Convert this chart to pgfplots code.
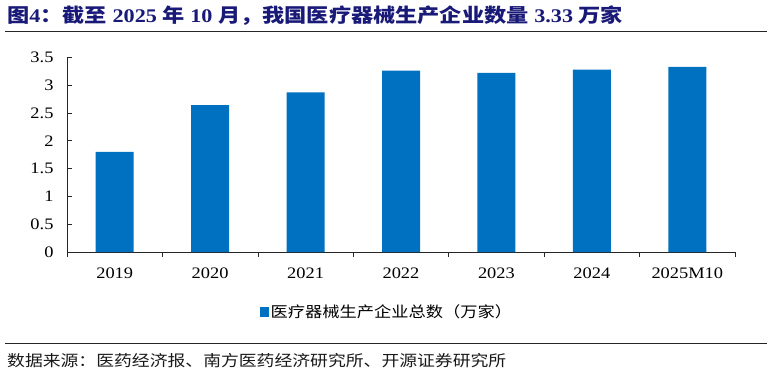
\documentclass[border=0pt]{standalone}
\usepackage{pgfplots}
\pgfplotsset{compat=1.18}
\usepackage{fontspec}
\setmainfont{Liberation Serif}[FakeStretch=1.15]
\newfontfamily\cjk{Noto Sans CJK SC}[FakeStretch=1.15]
\definecolor{barblue}{HTML}{0070C0}
\definecolor{titleblue}{RGB}{25,25,120}
\begin{document}
\begin{tikzpicture}[x=1pt,y=1pt]
\useasboundingbox (0,0) rectangle (774,-374);
\node[anchor=west, text=titleblue, font=\bfseries\fontsize{19.3}{22}\selectfont, inner sep=0] at (7,-15.5)
  {{\cjk 图}4{\cjk ：截至} 2025 {\cjk 年} 10 {\cjk 月，我国医疗器械生产企业数量} 3.33 {\cjk 万家}};
\draw[line width=0.9pt, black!85] (5,-31) -- (767,-31);
\begin{axis}[
  at={(67pt,-252pt)}, anchor=south west,
  scale only axis, width=668pt, height=194.7pt,
  xmin=-0.5, xmax=6.5, ymin=0, ymax=3.5,
  axis x line*=bottom, axis y line*=left,
  axis line style={-, black!85, line width=0.8pt},
  tick align=inside, major tick length=4.5pt,
  tick style={black!85, line width=0.7pt},
  ybar, bar width=38pt,
  ytick={0,0.5,...,3.5},
  xtick={-0.5,0.5,1.5,2.5,3.5,4.5,5.5,6.5},
  xticklabels={2019,2020,2021,2022,2023,2024,2025M10,},
  xticklabel style={xshift=47.71pt, yshift=-8pt},
  yticklabel style={xshift=-10pt},
  ticklabel style={font=\fontsize{16}{18}\selectfont},
  /pgf/number format/assume math mode=true,
  legend style={at={(0.479,-0.308)}, anchor=center, draw=none, fill=none,
    font=\cjk\fontsize{15}{17}\selectfont},
  legend image code/.code={\fill[barblue] (0pt,-5pt) rectangle (9pt,5pt);},
]
\addplot[fill=barblue, draw=none] coordinates {(0,1.80) (1,2.64) (2,2.87) (3,3.26) (4,3.22) (5,3.28) (6,3.33)};
\addlegendentry{医疗器械生产企业总数（万家）}
\end{axis}
\draw[line width=0.9pt, black!85] (5,-343) -- (767,-343);
\node[anchor=west, font=\cjk\fontsize{15.5}{18}\selectfont, inner sep=0, text=black!90] at (7,-360.5)
  {数据来源：医药经济报、南方医药经济研究所、开源证券研究所};
\end{tikzpicture}
\end{document}
